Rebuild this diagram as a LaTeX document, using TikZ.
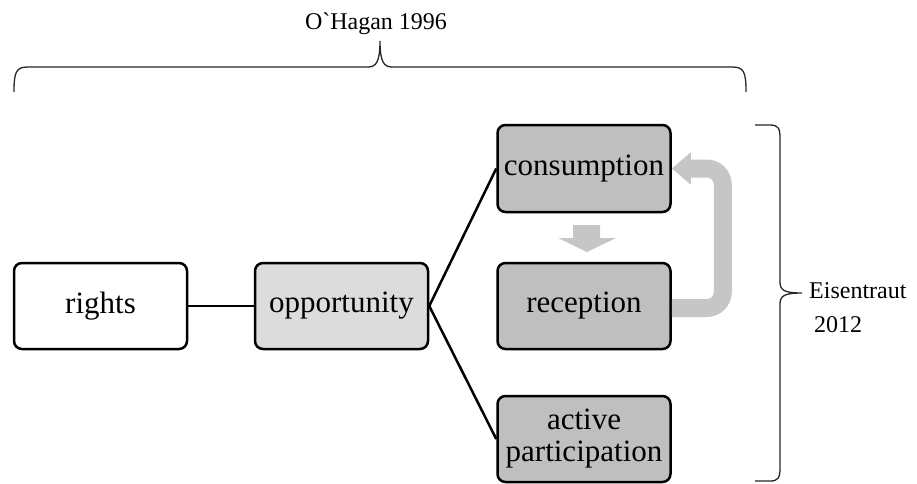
\documentclass[tikz,border=0pt]{standalone}
\usepackage{fontspec}
\setmainfont{Liberation Serif}[Ligatures=TeXOff]
\usetikzlibrary{arrows.meta}
\definecolor{lightbox}{HTML}{DCDCDC}
\definecolor{darkbox}{HTML}{BFBFBF}
\definecolor{arrowgray}{HTML}{C6C6C6}
\tikzset{
  box/.style={draw=black, line width=2.5pt, rounded corners=8pt, minimum width=173pt,
    minimum height=86pt, inner sep=0pt, align=center,
    font=\fontsize{31}{32}\selectfont},
  link/.style={draw=black, line width=2.5pt},
  bracestyle/.style={draw=black!85, line width=1.3pt},
  label/.style={inner sep=0pt, font=\fontsize{24}{28}\selectfont},
  feedback/.style={draw=arrowgray, line width=18pt, rounded corners=16pt,
    -{Triangle[width=31pt,length=19pt]}}
}
\begin{document}
\begin{tikzpicture}[x=1pt,y=-1pt]
\useasboundingbox (0,0) rectangle (917,483);
% boxes
\node[box, fill=white] (rights) at (100.5,306) {rights};
\node[box, fill=lightbox] (opp) at (341.5,306) {opportunity};
\node[box, fill=darkbox, minimum height=87pt] (cons) at (584,168.5) {consumption};
\node[box, fill=darkbox] (rec) at (584,306) {reception};
\node[box, fill=darkbox] (act) at (584,439) {active\\participation};
% connectors
\draw[link] (rights.east) -- (opp.west);
\draw[link] (opp.east) -- (cons.west);
\draw[link] (opp.east) -- (act.west);
% feedback arrow
\draw[feedback] ([yshift=-2pt]rec.east) -- ++(51,0) |- (cons.east);
% down arrow
\fill[arrowgray] (573,225) -- (600,225) -- (600,238) -- (616,238) -- (587,252)
  -- (558,238) -- (573,238) -- cycle;
% top brace
\coordinate (tl) at (14,92);
\coordinate (tr) at (746,92);
\coordinate (tt) at (380,41);
\draw[bracestyle] (tl) .. controls (14,72) and (16,67) .. (28,67) -- (368,67)
  .. controls (376,67) and (380,62) .. (tt)
  .. controls (380,62) and (384,67) .. (392,67) -- (732,67)
  .. controls (744,67) and (746,72) .. (tr);
\node[label, anchor=base] (ohagan) at (376,29) {O`Hagan 1996};
% right brace
\coordinate (rt) at (755,125);
\coordinate (rb) at (755,481);
\coordinate (rm) at (802,293);
\draw[bracestyle] (rt) -- (770,125) .. controls (778,125) and (780,128) .. (780,138)
  -- (780,282) .. controls (780,290) and (784,293) .. (rm)
  .. controls (784,293) and (780,296) .. (780,304)
  -- (780,468) .. controls (780,478) and (778,481) .. (770,481) -- (rb);
\node[label, anchor=base west] (eis1) at (809,298) {Eisentraut};
\node[label, anchor=base west] (eis2) at (814,332) {2012};
\end{tikzpicture}
\end{document}
